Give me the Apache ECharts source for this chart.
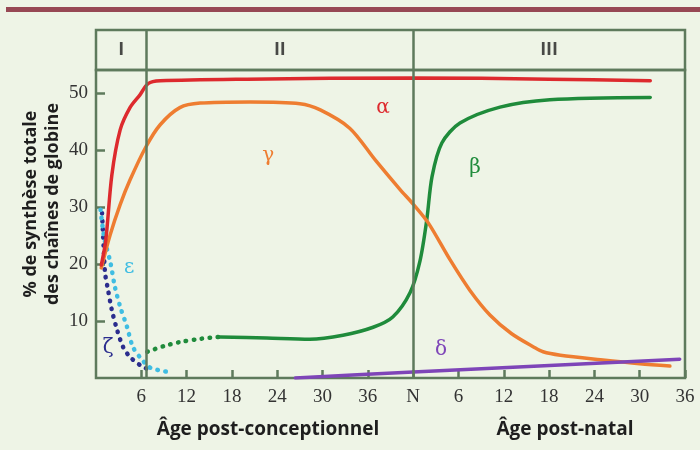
<!DOCTYPE html>
<html>
<head>
<meta charset="utf-8">
<script src="https://cdn.jsdelivr.net/npm/echarts@6/dist/echarts.min.js"></script>
<style>
  html, body { margin: 0; background: #eef4e6; }
  #chart { width: 700px; height: 450px; }
</style>
</head>
<body>
<div id="chart"></div>
<script>
// age in weeks since conception (N = birth = 42), % of globin chain synthesis
var alpha = [[0.7, 19.8], [1.3, 24.2], [2.1, 35.6], [3.2, 43.5], [4.5, 47.4], [5.8, 49.6], [6.9, 51.6], [8.5, 52.1], [20, 52.4], [42, 52.6], [60, 52.4], [73.4, 52.1]]
var gamma = [[0.7, 19.3], [1.85, 25], [3.2, 30.4], [4.5, 34.7], [6.6, 40.5], [8.5, 44.4], [11.1, 47.4], [13.8, 48.2], [20.4, 48.4], [27, 48.1], [29.7, 47], [33.6, 43.8], [37, 38.2], [40.3, 33], [42, 30.5], [44, 27.2], [46.9, 20.7], [49.5, 15.4], [52.2, 11], [55, 7.8], [58, 5.4], [59.2, 4.6], [61.5, 4], [66.8, 3.2], [72, 2.5], [76, 2.1]]
var betaEarly = [[6.8, 4.6], [9, 5.6], [11.1, 6.3], [14, 6.9], [16.4, 7.2]]
var beta = [[16.4, 7.2], [22.6, 7], [28.3, 6.8], [32.7, 7.5], [36.7, 8.9], [39.3, 10.7], [41.6, 15], [42.9, 20.5], [43.8, 27.7], [44.5, 35.3], [45.8, 41.2], [48.2, 44.7], [53.5, 47.5], [60.1, 48.8], [73.4, 49.2]]
var epsilon = [[0.6, 29.5], [1.1, 24.5], [1.9, 20.3], [2.5, 16], [3.2, 12.5], [4.1, 9], [4.9, 5.4], [6.1, 3.2], [7.2, 1.8], [9.4, 1.1]]
var zeta = [[0.8, 28.9], [1, 23.3], [1.2, 18.4], [1.6, 15.4], [2.1, 11.9], [2.8, 8.4], [3.6, 5.4], [4.5, 3.7], [5.8, 2.3], [7.5, 1.1]]
var delta = [[26.4, 0], [42, 1.05], [77.3, 3.3]]

var phaseNames = ['I', 'II', 'III']
var phaseCenters = [3.35, 24.35, 60]
var phaseBounds = [6.7, 42]
var xTicks = [6, 12, 18, 24, 30, 36, 42, 48, 54, 60, 66, 72, 78]
var yTicks = [10, 20, 30, 40, 50]

var labelPos = {
  alpha: [38, 47.4],
  gamma: [22.8, 39],
  beta: [50.2, 36.8],
  epsilon: [4.4, 19.3],
  zeta: [1.6, 5.3],
  delta: [45.7, 4.9]
}

var frame = '#5e7a5c'
var tickFont = 'Liberation Sans Narrow'
var boldFont = 'Open Sans'

function greek (key, txt, color) {
  return {
    symbol: 'circle',
    symbolSize: 0,
    data: [{ coord: labelPos[key] }],
    label: { show: true, position: 'inside', formatter: txt, color: color, fontSize: 20, fontFamily: 'DejaVu Serif' }
  }
}

function curve (name, data, color, dotted, key, txt) {
  return {
    name: name,
    type: 'line',
    xAxisIndex: 1,
    yAxisIndex: 1,
    data: data,
    smooth: 0.3,
    showSymbol: false,
    symbol: 'none',
    silent: true,
    lineStyle: dotted
      ? { color: color, width: 4.5, type: [0.5, 7.5], cap: 'round' }
      : { color: color, width: 3.5, cap: 'round' },
    markPoint: key ? greek(key, txt, color) : undefined,
    z: 3
  }
}

var chart = echarts.init(document.getElementById('chart'))
chart.setOption({
  backgroundColor: '#eef4e6',
  animation: false,
  graphic: [
    { type: 'rect', shape: { x: 6, y: 7, width: 694, height: 5 }, style: { fill: '#974854' } },
    {
      type: 'text', x: 268, y: 430,
      style: { text: 'Âge post-conceptionnel', fill: '#1e1e1e', font: 'bold 19px "Open Sans"', align: 'center', verticalAlign: 'middle' }
    },
    {
      type: 'text', x: 565, y: 430,
      style: { text: 'Âge post-natal', fill: '#1e1e1e', font: 'bold 19px "Open Sans"', align: 'center', verticalAlign: 'middle' }
    },
    {
      type: 'text', x: 42, y: 204, rotation: Math.PI / 2,
      style: { text: '% de synthèse totale\ndes chaînes de globine', fill: '#1e1e1e', font: 'bold 18px "Open Sans"', align: 'center', verticalAlign: 'middle', lineHeight: 22 }
    }
  ],
  grid: [
    { left: 96, right: 15, top: 30, height: 40, show: true, borderColor: frame, borderWidth: 2.5, backgroundColor: 'transparent' },
    { left: 96, right: 15, top: 70, bottom: 72, show: true, borderColor: frame, borderWidth: 2.5, backgroundColor: 'transparent' }
  ],
  xAxis: [
    { gridIndex: 0, type: 'value', min: 0, max: 78, show: false },
    {
      gridIndex: 1, type: 'value', min: 0, max: 78,
      axisLine: { show: false },
      splitLine: { show: false },
      axisTick: { inside: true, length: 8, customValues: xTicks, lineStyle: { color: frame, width: 2.5 } },
      axisLabel: {
        customValues: xTicks, margin: 10, color: '#333', fontSize: 19, fontFamily: tickFont,
        formatter: function (v) { return v < 42 ? v : (v === 42 ? 'N' : v - 42) }
      }
    }
  ],
  yAxis: [
    { gridIndex: 0, type: 'value', min: 0, max: 1, show: false },
    {
      gridIndex: 1, type: 'value', min: 0, max: 54,
      axisLine: { show: false },
      splitLine: { show: false },
      axisTick: { inside: true, length: 9, customValues: yTicks, lineStyle: { color: frame, width: 2.5 } },
      axisLabel: { customValues: yTicks, margin: 8, color: '#333', fontSize: 19, fontFamily: tickFont }
    }
  ],
  series: [
    {
      type: 'scatter',
      xAxisIndex: 0,
      yAxisIndex: 0,
      symbolSize: 0,
      silent: true,
      data: phaseCenters.map(function (c, i) { return { value: [c, 0.5], name: phaseNames[i] } }),
      label: { show: true, position: 'inside', formatter: '{b}', color: '#1e1e1e', fontSize: 18, fontWeight: 'bold', fontFamily: boldFont },
      markLine: {
        silent: true, symbol: 'none', label: { show: false },
        lineStyle: { color: frame, width: 2.5, type: 'solid' },
        data: phaseBounds.map(function (b) { return { xAxis: b } })
      }
    },
    {
      type: 'line',
      xAxisIndex: 1,
      yAxisIndex: 1,
      data: [],
      markLine: {
        silent: true, symbol: 'none', label: { show: false },
        lineStyle: { color: frame, width: 2.5, type: 'solid' },
        data: phaseBounds.map(function (b) { return { xAxis: b } })
      }
    },
    curve('zeta', zeta, '#2b2d8e', true, 'zeta', 'ζ'),
    curve('epsilon', epsilon, '#3fbde2', true, 'epsilon', 'ε'),
    curve('betaEarly', betaEarly, '#1f8b3b', true),
    curve('beta', beta, '#1f8b3b', false, 'beta', 'β'),
    curve('gamma', gamma, '#ee7d31', false, 'gamma', 'γ'),
    curve('alpha', alpha, '#dd2a2e', false, 'alpha', 'α'),
    curve('delta', delta, '#7e45b8', false, 'delta', 'δ')
  ]
})
</script>
</body>
</html>
